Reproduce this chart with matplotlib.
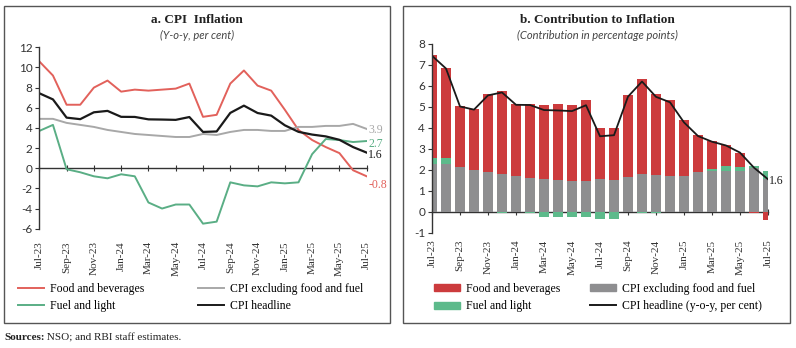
import matplotlib
matplotlib.use("Agg")
import matplotlib.pyplot as plt
from matplotlib.patches import Rectangle
from matplotlib.lines import Line2D
import numpy as np
import pandas as pd

plt.rcParams["axes.unicode_minus"] = False

SERIF = "Liberation Serif"
SANS = "Lato"

months = pd.date_range("2023-07-01", periods=25, freq="MS")
month_labels = [m.strftime("%b-%y") for m in months]

# y-o-y inflation, per cent
food_bev = [10.6, 9.2, 6.3, 6.3, 8.0, 8.7, 7.6, 7.8, 7.7, 7.8, 7.9, 8.4, 5.1,
            5.3, 8.4, 9.7, 8.2, 7.7, 5.8, 3.8, 2.8, 2.1, 1.5, -0.2, -0.8]
core = [4.9, 4.9, 4.5, 4.3, 4.1, 3.8, 3.6, 3.4, 3.3, 3.2, 3.1, 3.1, 3.4,
        3.3, 3.6, 3.8, 3.8, 3.7, 3.7, 4.1, 4.1, 4.2, 4.2, 4.4, 3.9]
fuel = [3.7, 4.3, -0.1, -0.4, -0.8, -1.0, -0.6, -0.8, -3.4, -4.0, -3.6, -3.6, -5.5,
        -5.3, -1.4, -1.7, -1.8, -1.4, -1.5, -1.4, 1.4, 2.9, 2.8, 2.6, 2.7]
headline = [7.44, 6.83, 5.02, 4.87, 5.55, 5.69, 5.10, 5.09, 4.85, 4.83, 4.80, 5.08, 3.60,
            3.65, 5.49, 6.21, 5.48, 5.22, 4.26, 3.61, 3.34, 3.16, 2.82, 2.10, 1.55]

# contributions, percentage points
contrib_core = [2.28, 2.27, 2.11, 1.97, 1.89, 1.78, 1.69, 1.62, 1.56, 1.51, 1.45, 1.48, 1.57,
                1.49, 1.65, 1.78, 1.73, 1.70, 1.72, 1.89, 1.96, 1.96, 1.92, 2.08, 1.57]
contrib_fuel = [0.28, 0.31, -0.01, -0.02, -0.02, -0.05, -0.02, -0.06, -0.25, -0.27, -0.25, -0.27, -0.35,
                -0.33, -0.03, -0.05, -0.04, -0.03, -0.03, -0.02, 0.06, 0.20, 0.19, 0.10, 0.38]
contrib_food = [4.90, 4.27, 2.93, 2.93, 3.72, 4.00, 3.46, 3.53, 3.54, 3.61, 3.62, 3.86, 2.42,
                2.51, 3.93, 4.55, 3.88, 3.61, 2.64, 1.78, 1.33, 1.03, 0.70, -0.05, -0.41]

RED_LINE = "#e2615b"
GREEN_LINE = "#5aae85"
GREY_LINE = "#a8a8a8"
BLACK = "#1a1a1a"
RED_BAR = "#cc3b3d"
GREY_BAR = "#8e8e90"
GREEN_BAR = "#5dba8b"

W, H = 796, 348
fig = plt.figure(figsize=(W / 100, H / 100), dpi=100)


def px_axes(left, top, right, bottom):
    return fig.add_axes([left / W, 1 - bottom / H, (right - left) / W, (bottom - top) / H])


def style_axes(ax, yticks, label_pad):
    x = np.arange(len(months))
    ax.set_xlim(0, len(months) - 1)
    ax.set_yticks(yticks)
    ax.set_ylim(yticks[0], yticks[-1])
    for s in ("top", "right", "bottom"):
        ax.spines[s].set_visible(False)
    ax.spines["left"].set_color("#333333")
    ax.spines["left"].set_linewidth(1.0)
    ax.tick_params(axis="y", length=3, width=0.8, color="#333333", pad=2, labelsize=8.5)
    for lbl in ax.get_yticklabels():
        lbl.set_fontfamily(SANS)
        lbl.set_color("#333333")
    # month labels along the bottom edge
    ax.set_xticks(x[::2])
    ax.set_xticklabels(month_labels[::2], rotation=90, fontsize=8, family=SERIF, color="#333333")
    ax.tick_params(axis="x", length=0, pad=label_pad)
    # axis line with tick marks along zero
    zero = ax.secondary_xaxis(0, transform=ax.transData)
    zero.set_xticks(x[::2])
    zero.set_xticklabels([])
    zero.tick_params(axis="x", length=4, width=0.8, direction="inout", color="#333333")
    zero.spines["bottom"].set_color("#333333")
    zero.spines["bottom"].set_linewidth(1.0)


x = np.arange(len(months))

# panel a: CPI inflation
ax1 = px_axes(39.3, 47.3, 366.7, 228.7)
ax1.plot(x, food_bev, color=RED_LINE, lw=1.4)
ax1.plot(x, fuel, color=GREEN_LINE, lw=1.4)
ax1.plot(x, core, color=GREY_LINE, lw=1.4)
ax1.plot(x, headline, color=BLACK, lw=1.6)
style_axes(ax1, list(range(-6, 13, 2)), 9)

for series, color, dy in ((core, GREY_LINE, -1), (fuel, GREEN_LINE, -2),
                          (headline, BLACK, -2), (food_bev, RED_LINE, -6)):
    ax1.annotate(f"{series[-1]:.1f}", (x[-1], series[-1]), xytext=(1, dy),
                 textcoords="offset points", ha="left", va="center",
                 fontsize=8.5, family=SERIF, color=color, annotation_clip=False)

# panel b: contributions
ax2 = px_axes(432, 44, 768, 232.7)
cc = np.array(contrib_core)
cf = np.array(contrib_fuel)
cd = np.array(contrib_food)
fuel_pos = np.clip(cf, 0, None)
fuel_neg = np.clip(cf, None, 0)
food_pos = np.clip(cd, 0, None)
food_neg = np.clip(cd, None, 0)
bw = 0.68
ax2.bar(x, cc, bw, color=GREY_BAR)
ax2.bar(x, fuel_pos, bw, bottom=cc, color=GREEN_BAR)
ax2.bar(x, fuel_neg, bw, color=GREEN_BAR)
ax2.bar(x, food_pos, bw, bottom=cc + fuel_pos, color=RED_BAR)
ax2.bar(x, food_neg, bw, bottom=fuel_neg, color=RED_BAR)
ax2.plot(x, headline, color=BLACK, lw=1.3)
style_axes(ax2, list(range(-1, 9)), 5)
ax2.annotate(f"{headline[-1]:.1f}", (x[-1], headline[-1]), xytext=(1, -1),
             textcoords="offset points", ha="left", va="center",
             fontsize=8.5, family=SERIF, color=BLACK, annotation_clip=False)

# titles
fig.text(197 / W, 1 - 20 / H, "a. CPI  Inflation", ha="center", va="center",
         fontsize=9.5, fontweight="bold", family=SERIF, color="#222222")
fig.text(197 / W, 1 - 35 / H, "(Y-o-y, per cent)", ha="center", va="center",
         fontsize=8, style="italic", family=SANS, color="#444444")
fig.text(597 / W, 1 - 20 / H, "b. Contribution to Inflation", ha="center", va="center",
         fontsize=9.5, fontweight="bold", family=SERIF, color="#222222")
fig.text(597 / W, 1 - 35 / H, "(Contribution in percentage points)", ha="center", va="center",
         fontsize=8, style="italic", family=SANS, color="#444444")

# panel frames
for l, r in ((4, 390), (403, 790)):
    fig.add_artist(Rectangle((l / W, 1 - 323 / H), (r - l) / W, (323 - 6) / H,
                             transform=fig.transFigure, fill=False,
                             edgecolor="#555555", lw=1.0))

# legends
leg_kw = dict(frameon=False, handlelength=2.2, handleheight=0.55, handletextpad=0.5,
              labelspacing=0.45, borderaxespad=0, borderpad=0,
              prop={"family": SERIF, "size": 8.5})


def two_legends(ax, left_handles, right_handles, x_left, x_right, y_top):
    h, l = zip(*left_handles)
    lg = ax.legend(h, l, loc="upper left", bbox_to_anchor=(x_left / W, 1 - y_top / H),
                   bbox_transform=fig.transFigure, **leg_kw)
    ax.add_artist(lg)
    h, l = zip(*right_handles)
    ax.legend(h, l, loc="upper left", bbox_to_anchor=(x_right / W, 1 - y_top / H),
              bbox_transform=fig.transFigure, **leg_kw)


def line_handle(c, lw=1.4):
    return Line2D([], [], color=c, lw=lw)


def patch_handle(c):
    return Rectangle((0, 0), 1, 1, color=c)


two_legends(ax1,
            [(line_handle(RED_LINE), "Food and beverages"), (line_handle(GREEN_LINE), "Fuel and light")],
            [(line_handle(GREY_LINE), "CPI excluding food and fuel"), (line_handle(BLACK), "CPI headline")],
            18, 198, 283)
two_legends(ax2,
            [(patch_handle(RED_BAR), "Food and beverages"), (patch_handle(GREEN_BAR), "Fuel and light")],
            [(patch_handle(GREY_BAR), "CPI excluding food and fuel"),
             (line_handle(BLACK), "CPI headline (y-o-y, per cent)")],
            434, 590, 283)

# source note
src = fig.text(4 / W, 1 - 338 / H, "Sources:", ha="left", va="center",
               fontsize=8, fontweight="bold", family=SERIF, color="#222222")
ax1.annotate(" NSO; and RBI staff estimates.", xy=(1, 0.5), xycoords=src,
             ha="left", va="center", fontsize=8, family=SERIF, color="#222222",
             annotation_clip=False)

fig.savefig("out.png", dpi=100)
